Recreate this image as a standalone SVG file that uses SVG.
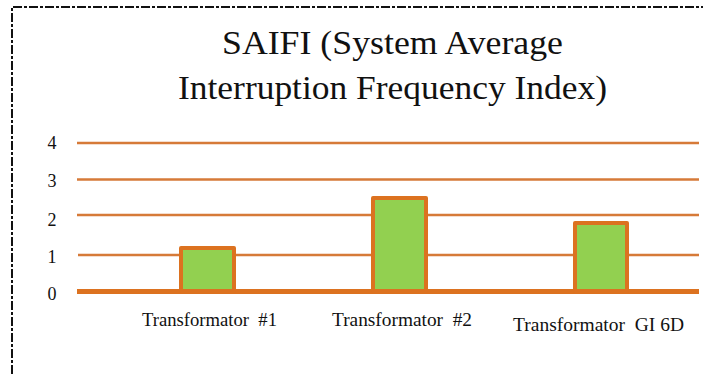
<svg xmlns="http://www.w3.org/2000/svg" width="706" height="374" viewBox="0 0 706 374">
<style>
.frame{stroke:#111;stroke-width:2;stroke-dasharray:9 2 3 2;fill:none}
.grid{stroke:#d67a38;stroke-width:2.5}
.base{stroke:#dc7220;stroke-width:5}
.bar{fill:#92d050;stroke:#dc7220;stroke-width:4;stroke-linejoin:round}
.t{font-family:"Liberation Serif","Times New Roman",serif;fill:#111}
.title{font-size:33px;text-anchor:middle}
.ax{font-size:18px;text-anchor:middle}
.lab{font-size:19px}
</style>
<rect width="706" height="374" fill="#fff"/>
<path class="frame" d="M12 374 V7 H703"/>
<g id="title">
<text class="t title" x="392.5" y="54" textLength="341" lengthAdjust="spacingAndGlyphs">SAIFI (System Average</text>
<text class="t title" x="392.5" y="99" textLength="429" lengthAdjust="spacingAndGlyphs">Interruption Frequency Index)</text>
</g>
<g id="axis">
<text class="t ax" x="52" y="149">4</text>
<text class="t ax" x="52" y="187">3</text>
<text class="t ax" x="52" y="226">2</text>
<text class="t ax" x="52" y="263">1</text>
<text class="t ax" x="52" y="300">0</text>
</g>
<g id="labels">
<text class="t lab" x="142" y="326" xml:space="preserve" textLength="135" lengthAdjust="spacingAndGlyphs">Transformator  #1</text>
<text class="t lab" x="332" y="326" xml:space="preserve" textLength="140" lengthAdjust="spacingAndGlyphs">Transformator  #2</text>
<text class="t lab" x="513" y="331" xml:space="preserve" textLength="171" lengthAdjust="spacingAndGlyphs">Transformator  GI 6D</text>
</g>
<g id="grid">
<line class="grid" x1="77" y1="143" x2="699" y2="143"/>
<line class="grid" x1="77" y1="179.5" x2="699" y2="179.5"/>
<line class="grid" x1="77" y1="215" x2="699" y2="215"/>
<line class="grid" x1="78" y1="255" x2="699" y2="255"/>
<line class="base" x1="77" y1="291.5" x2="699" y2="291.5"/>
</g>
<g id="bar1"><rect class="bar" x="181" y="248" width="53" height="43"/></g>
<g id="bar2"><rect class="bar" x="373" y="198" width="53" height="93"/></g>
<g id="bar3"><rect class="bar" x="575" y="223" width="52" height="68"/></g>
</svg>
